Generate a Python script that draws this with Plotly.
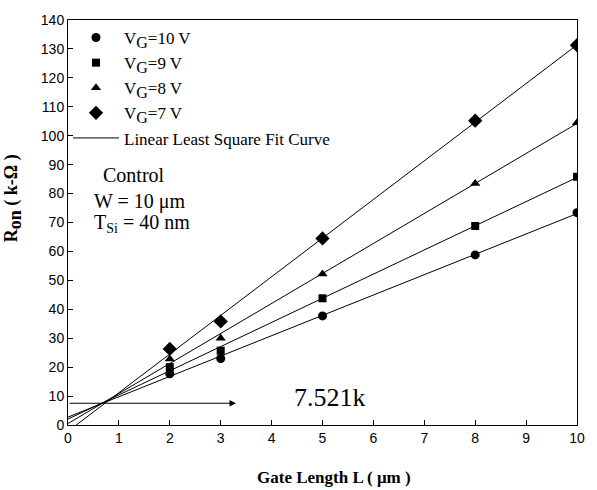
import numpy as np
import plotly.graph_objects as go

gate_length = [2, 3, 5, 8, 10]
ron_vg10 = [17.7, 23.0, 37.7, 58.8, 73.4]
ron_vg9 = [20.0, 25.7, 43.8, 68.8, 85.8]
ron_vg8 = [22.8, 30.0, 52.2, 83.5, 104.5]
ron_vg7 = [26.3, 35.8, 64.5, 105.2, 131.3]

series_names = ["V<sub><span style='font-size:16px'>G</span></sub>=10 V",
                "V<sub><span style='font-size:16px'>G</span></sub>=9 V",
                "V<sub><span style='font-size:16px'>G</span></sub>=8 V",
                "V<sub><span style='font-size:16px'>G</span></sub>=7 V"]
series_values = [ron_vg10, ron_vg9, ron_vg8, ron_vg7]
series_symbols = ["circle", "square", "triangle-up", "diamond"]
series_sizes = [9, 8, 9, 11]

x_ticks = list(range(0, 11))
y_ticks = list(range(0, 141, 10))
cross_value = 7.521
fit_x = [0, 10]

serif = "Liberation Serif, Times New Roman, serif"
sans = "Liberation Sans, Arial, sans-serif"

fig = go.Figure()

for name, vals, sym, sz in zip(series_names, series_values, series_symbols, series_sizes):
    fig.add_trace(go.Scatter(x=gate_length, y=vals, mode="markers", name=name,
                             marker=dict(symbol=sym, size=sz, color="black")))

for i, vals in enumerate(series_values):
    slope, intercept = np.polyfit(gate_length, vals, 1)
    fx = np.array(fit_x, dtype=float)
    fig.add_trace(go.Scatter(x=fx, y=slope * fx + intercept, mode="lines",
                             line=dict(color="black", width=1),
                             name="Linear Least Square Fit Curve",
                             showlegend=(i == 0), hoverinfo="skip"))

fig.add_annotation(x=3.3, y=cross_value, ax=0, ay=cross_value, xref="x", yref="y",
                   axref="x", ayref="y", showarrow=True, arrowhead=2, arrowsize=1.3,
                   arrowwidth=1, arrowcolor="black", text="")
fig.add_annotation(x=5.15, y=9.6, xref="x", yref="y", text="7.521k", showarrow=False,
                   xanchor="center", yanchor="middle",
                   font=dict(family=serif, size=26, color="black"))

def py(pix):
    return (425 - pix) / 409

def px(pix):
    return (pix - 68) / 509

fig.add_annotation(x=px(134), y=py(173), xref="paper", yref="paper", text="Control",
                   showarrow=False, xanchor="center", yanchor="middle",
                   font=dict(family=serif, size=20, color="black"))
fig.add_annotation(x=px(92), y=py(199), xref="paper", yref="paper", text="W = 10 μm",
                   showarrow=False, xanchor="left", yanchor="middle",
                   font=dict(family=serif, size=20, color="black"))
fig.add_annotation(x=px(92), y=py(222), xref="paper", yref="paper",
                   text="T<sub>Si</sub> = 40 nm",
                   showarrow=False, xanchor="left", yanchor="middle",
                   font=dict(family=serif, size=20, color="black"))

fig.add_annotation(x=px(13), y=py(196), xref="paper", yref="paper",
                   text="<b>R<sub><span style='font-size:18px'>on</span></sub> ( k-Ω )</b>",
                   textangle=-90, showarrow=False, xanchor="center", yanchor="middle",
                   font=dict(family=serif, size=18, color="black"))
fig.add_annotation(x=px(334), y=py(478), xref="paper", yref="paper",
                   text="<b>Gate Length L ( μm )</b>", showarrow=False,
                   xanchor="center", yanchor="middle",
                   font=dict(family=serif, size=17, color="black"))

axis_common = dict(showline=True, linecolor="black", linewidth=1, mirror=True,
                   ticks="inside", ticklen=5, tickcolor="black", showgrid=False,
                   zeroline=False, tickfont=dict(family=sans, size=14, color="black"))

fig.update_xaxes(range=[0, 10], tickvals=x_ticks, **axis_common)
fig.update_yaxes(range=[0, 140], tickvals=y_ticks, **axis_common)

fig.update_layout(
    width=597, height=490,
    margin=dict(l=68, r=20, t=16, b=65),
    plot_bgcolor="white", paper_bgcolor="white",
    showlegend=True,
    legend=dict(x=0.0, y=1.0, xanchor="left", yanchor="top",
                bgcolor="rgba(0,0,0,0)", font=dict(family=serif, size=17, color="black"),
                tracegroupgap=0, itemwidth=46),
)

fig.write_html("out.html")
